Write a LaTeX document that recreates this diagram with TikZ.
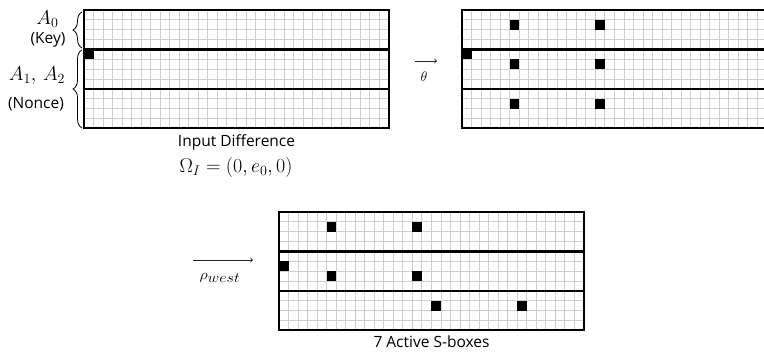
\RequirePackage{fix-cm}
\documentclass[tikz,border=0pt]{standalone}
\usepackage{fontspec}
\usepackage{graphicx}
\newfontfamily\labelfont{Open Sans}
\usetikzlibrary{decorations.pathreplacing}

% cell size of one state bit
\newcommand{\cw}{9.53}
\newcommand{\ch}{9.87}

% state of three planes (4 rows x 32 columns each); #3 = active cells col/row
\newcommand{\stategrid}[3]{%
  \begin{scope}[shift={(#1,#2)}]
    \foreach \i in {1,...,31}
      \draw[cellline] (\i*\cw,0) -- (\i*\cw,12*\ch);
    \foreach \j in {1,2,3,5,6,7,9,10,11}
      \draw[cellline] (0,\j*\ch) -- (32*\cw,\j*\ch);
    \foreach \c/\r in {#3}
      \fill[black] (\c*\cw,\r*\ch) rectangle ++(\cw,\ch);
    \draw[planeline] (0,0) rectangle (32*\cw,12*\ch);
    \draw[planeline] (0,4*\ch) -- (32*\cw,4*\ch);
    \draw[planeline] (0,8*\ch) -- (32*\cw,8*\ch);
  \end{scope}}

\tikzset{
  cellline/.style={draw=black!19, line width=1pt},
  planeline/.style={draw=black, line width=2.1pt},
  sidelabel/.style={font=\labelfont\fontsize{15.5}{18}\selectfont, inner sep=0pt},
  mathlabel/.style={font=\fontsize{20}{24}\selectfont, inner sep=0pt},
  smallmath/.style={font=\fontsize{14}{17}\selectfont, inner sep=0pt},
  steparrow/.style={-to, line width=0.9pt, black!85},
  bracket/.style={decorate, decoration={brace, amplitude=9pt}, line width=0.8pt}
}

\begin{document}
\begin{tikzpicture}[x=1pt, y=-1pt]
  \useasboundingbox (0,0) rectangle (764,352);
  \clip (0,0) rectangle (764,352);

  % input state
  \stategrid{84}{10}{0/4}
  \node[inner sep=0, minimum width=305, minimum height=118.4, anchor=north west] (g1) at (84,10) {};

  % after theta
  \stategrid{462}{10}{5/1,14/1,0/4,5/5,14/5,5/9,14/9}
  \node[inner sep=0, minimum width=305, minimum height=118.4, anchor=north west] (g2) at (462,10) {};

  % after rho_west
  \stategrid{279}{212}{5/1,14/1,0/5,5/6,14/6,16/9,25/9}
  \node[inner sep=0, minimum width=305, minimum height=118.4, anchor=north west] (g3) at (279,212) {};

  % plane labels
  \coordinate (b1a) at (82,48);
  \coordinate (b1b) at (82,12);
  \coordinate (b2a) at (82,128);
  \coordinate (b2b) at (82,50);
  \draw[bracket] (b1a) -- (b1b);
  \draw[bracket] (b2a) -- (b2b);
  \node[mathlabel] (a0) at (47.5,19) {$A_0$};
  \node[sidelabel] (key) at (48,40) {(Key)};
  \node[mathlabel] (a12) at (37,76) {$A_1,\, A_2$};
  \node[sidelabel] (nonce) at (36,104) {(Nonce)};

  % captions
  \node[sidelabel] (cap1) at (236.5,142) {Input Difference};
  \node[mathlabel] (omega) at (236,168) {$\Omega_I = (0, e_0, 0)$};
  \node[sidelabel] (cap3) at (431.5,342) {7 Active S-boxes};

  % step arrows
  \coordinate (t1) at (415,61);
  \coordinate (t2) at (437,61);
  \draw[steparrow] (t1) -- (t2);
  \node[smallmath] (theta) at (424,77) {$\theta$};
  \coordinate (r1) at (193,260);
  \coordinate (r2) at (253,260);
  \draw[steparrow] (r1) -- (r2);
  \node[smallmath] (rho) at (220,278) {\scalebox{1.15}[1]{$\rho_{\textstyle west}$}};
\end{tikzpicture}
\end{document}
